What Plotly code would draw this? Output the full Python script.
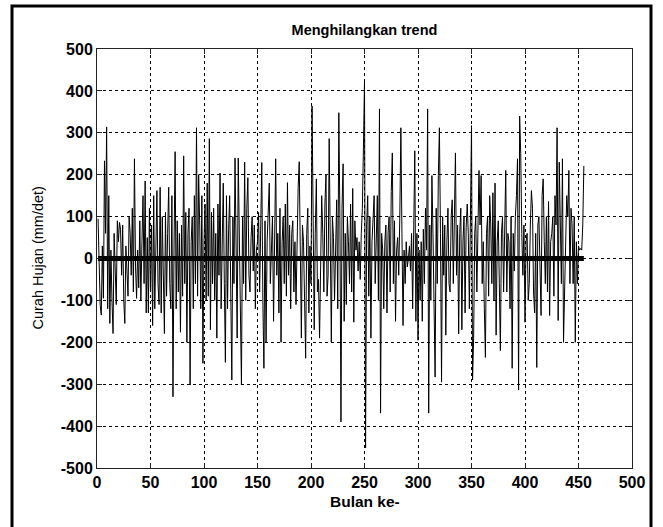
import plotly.graph_objects as go

# Detrended monthly rainfall (mm/det), month 1 .. 455
curah_hujan = [
    95, -40, -112, -135, 30, -95, 233, 60, 314, -120,
    150, -155, 20, -100, -179, 60, -60, -110, 90, 40,
    86, 70, -40, 80, -100, -155, 30, -60, -90, 100,
    60, -40, 120, -80, 238, -20, -95, 20, -70, 90,
    -100, 40, 150, -60, 185, -130, 50, -130, 120, -80,
    80, -160, 150, -120, 30, 162, -60, -110, 170, -130,
    100, -40, -179, 110, -90, 60, 170, -60, -120, 150,
    -330, 30, 255, -120, 90, -80, 60, -176, 80, -90,
    245, -60, 110, -200, 60, 120, -302, 40, 100, -120,
    150, -60, 312, -90, 200, 80, -120, 150, -250, 40,
    130, -100, 180, -90, 286, -170, 110, -60, 120, -100,
    60, -190, 130, -40, 204, -120, 90, 180, -60, -248,
    150, -120, 70, 150, -80, -290, 100, -60, 240, -50,
    -190, 240, 40, -120, -302, 100, -60, 230, -100, 120,
    193, -40, -80, 50, 100, -30, 80, -120, 20, 40,
    110, -80, 60, 229, -100, -262, 90, -200, 40, 120,
    180, -60, 30, 100, -150, 80, 238, -40, 60, -130,
    120, -200, 40, 100, -60, 130, -90, 181, -40, 80,
    -120, 60, 90, -80, 40, -110, 100, 170, 231, -40,
    -190, 80, 40, -100, -238, 60, 120, -130, 30, -60,
    364, 100, -170, 60, 190, -80, -50, -190, 40, 150,
    60, -80, 130, 200, -90, -40, 286, 60, -200, 100,
    50, -100, 80, 140, -120, 348, 100, -390, 120, 226,
    -150, 60, -110, 100, 40, -60, 130, -80, 167, -152,
    90, 20, 50, -30, 40, -50, 60, 120, 264, 426,
    -452, 80, 150, -90, 100, -190, 40, 120, 150, -60,
    80, 150, -100, 357, -369, 60, 20, -120, 40, 80,
    -130, 60, 100, -80, 160, 252, -60, 90, -150, 20,
    50, -40, 100, 312, 60, -160, 20, -60, 40, -20,
    0, 30, -30, 60, -120, 80, 257, -150, 60, -195,
    20, -100, 40, -150, 70, -60, 120, 20, 357, -369,
    80, -100, 198, 60, -150, -283, 120, -60, 198, 312,
    60, -295, 100, -40, 80, -183, 40, 120, -60, -80,
    100, 140, -60, 180, 252, -40, 80, -180, 60, 120,
    -170, 40, 100, -130, 74, 130, 60, -120, 150, 317,
    -290, -190, 60, 100, -80, 40, 210, 80, 198, -60,
    40, -120, -236, 60, 100, -90, 150, 80, -60, 157,
    -100, 180, -183, 40, 90, -60, -220, 60, 100, -80,
    130, 210, -80, 60, 40, -120, 100, -262, 60, -30,
    100, 150, 238, -314, 340, 250, 60, -40, 80, -152,
    40, 60, -100, -60, 80, 162, 120, -80, -130, 60,
    -260, 80, 100, -60, -136, 150, 190, 40, -60, 100,
    -80, 136, -136, 40, 60, 100, -90, 150, 80, 312,
    -148, 230, 100, -60, 238, -200, -80, 60, 150, 100,
    210, -60, 120, 80, -60, 100, -200, 40, -60, 30,
    20, 24, 20, 80, 221,
]
bulan = list(range(1, len(curah_hujan) + 1))

# Linear trend of the detrended series (flat at zero)
trend_x = [1, len(curah_hujan)]
trend_y = [0, 0]

x_ticks = [0, 50, 100, 150, 200, 250, 300, 350, 400, 450, 500]
y_ticks = [-500, -400, -300, -200, -100, 0, 100, 200, 300, 400, 500]
# plain hyphen for negative labels
x_ticktext = [str(v) for v in x_ticks]
y_ticktext = [str(v) for v in y_ticks]

title_text = "Menghilangkan trend"
x_label = "Bulan ke-"
y_label = "Curah Hujan (mm/det)"

W, H = 663, 527
L, R, T, B = 97, 31, 49, 59          # plot area margins in px
plot_w, plot_h = W - L - R, H - T - B


def px_to_paper_x(px):
    return (px - L) / plot_w


def px_to_paper_y(py):
    return (H - B - py) / plot_h


FONT = "Liberation Sans, Arial, sans-serif"

fig = go.Figure()
fig.add_trace(go.Scatter(
    x=bulan, y=curah_hujan, mode="lines",
    line=dict(color="black", width=1), showlegend=False,
))
fig.add_trace(go.Scatter(
    x=trend_x, y=trend_y, mode="lines",
    line=dict(color="black", width=5), showlegend=False,
))

tick_font = dict(family=FONT, size=16, color="black", weight="bold")
axis_common = dict(
    showgrid=True, gridcolor="black", gridwidth=1, griddash="3px,3px",
    showline=True, linecolor="#222", linewidth=1, mirror="ticks",
    ticks="inside", ticklen=5, tickcolor="#222",
    zeroline=False, tickfont=tick_font, automargin=False,
)

fig.update_layout(
    width=W, height=H,
    margin=dict(l=L, r=R, t=T, b=B),
    paper_bgcolor="white", plot_bgcolor="white",
    xaxis=dict(range=[0, 500], tickvals=x_ticks, ticktext=x_ticktext, **axis_common),
    yaxis=dict(range=[-500, 500], tickvals=y_ticks, ticktext=y_ticktext, **axis_common),
    title=dict(
        text=title_text, x=0.5, xref="paper", y=1 - 30 / H, yref="container",
        xanchor="center", yanchor="middle",
        font=dict(family=FONT, size=14.5, color="black", weight="bold"),
    ),
    annotations=[
        dict(text=x_label, xref="paper", yref="paper", x=0.5, y=px_to_paper_y(501),
             xanchor="center", yanchor="middle", showarrow=False,
             font=dict(family=FONT, size=15.5, color="black", weight="bold")),
        dict(text=y_label, xref="paper", yref="paper", x=px_to_paper_x(37), y=0.5,
             xanchor="center", yanchor="middle", showarrow=False, textangle=-90,
             font=dict(family=FONT, size=14.5, color="black")),
    ],
    shapes=[
        dict(type="rect", xref="paper", yref="paper", layer="above",
             x0=px_to_paper_x(12), x1=px_to_paper_x(651),
             y0=px_to_paper_y(530), y1=px_to_paper_y(6),
             line=dict(color="black", width=3)),
    ],
)

fig.write_html("out.html")
